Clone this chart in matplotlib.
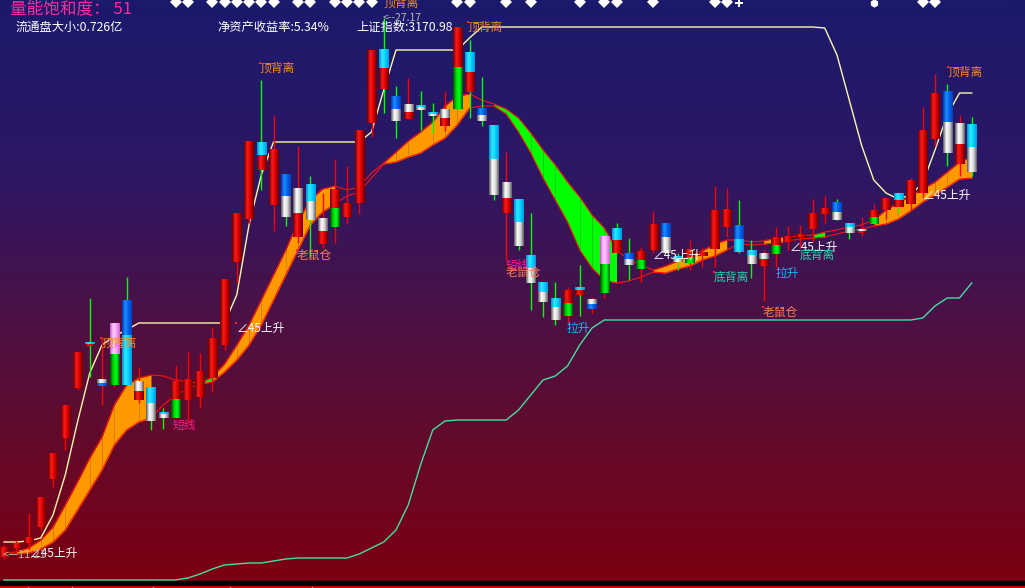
import numpy as np
import matplotlib
matplotlib.use("Agg")
import matplotlib.pyplot as plt
from matplotlib.colors import LinearSegmentedColormap

plt.rcParams['font.family'] = ['Noto Sans CJK SC', 'DejaVu Sans']

# candle data (screen units, smaller = higher price)
highs = [545, 540, 513, 497, 453, 405, 352, 298, 338, 323, 277, 367, 387, 408, 366, 352, 353, 327, 279, 213,
         141, 80, 115, 174, 146, 176, 193, 159, 166, 130, 50, 18, 86, 78, 91, 103, 91, 27, 40, 77,
         125, 152, 199, 213, 282, 282, 287, 265, 297, 236, 223, 238, 247, 211, 223, 253, 240, 247, 186, 188,
         200, 240, 250, 227, 226, 225, 199, 196, 199, 223, 217, 204, 198, 193, 178, 107, 74, 84, 115, 117]
lows = [559, 552, 550, 530, 487, 450, 390, 377, 405, 387, 385, 403, 430, 429, 418, 423, 408, 392, 350, 283,
        223, 190, 231, 226, 243, 257, 248, 243, 224, 214, 137, 113, 138, 119, 130, 133, 131, 109, 118, 126,
        200, 260, 250, 310, 317, 325, 325, 316, 313, 298, 253, 280, 282, 253, 253, 270, 270, 267, 267, 237,
        253, 278, 301, 267, 250, 248, 242, 223, 220, 239, 236, 227, 219, 213, 210, 197, 146, 166, 176, 176]
tops = [547, 543, 537, 497, 453, 405, 352, 342, 379, 323, 300, 381, 387, 412, 381, 379, 371, 338, 279, 213,
        141, 142, 149, 174, 188, 184, 218, 189, 203, 130, 50, 49, 96, 104, 105, 112, 109, 27, 52, 108,
        125, 182, 199, 255, 282, 298, 290, 287, 299, 236, 228, 253, 251, 224, 223, 256, 249, 252, 210, 209,
        225, 250, 253, 237, 236, 234, 213, 208, 202, 223, 229, 210, 198, 193, 180, 130, 93, 91, 123, 124]
mids = [557, 548, 543, 527, 479, 438, 388, 344, 383, 354, 335, 391, 403, 414, 399, 400, 397, 378, 345, 262,
        219, 155, 205, 196, 213, 201, 231, 208, 217, 203, 123, 68, 109, 112, 107, 114, 118, 67, 72, 115,
        159, 198, 222, 268, 292, 307, 303, 290, 304, 264, 240, 259, 260, 250, 237, 259, 257, 256, 249, 227,
        239, 255, 259, 245, 242, 237, 229, 214, 212, 227, 231, 217, 210, 200, 204, 193, 139, 122, 144, 147]
bots = [557, 548, 543, 527, 479, 438, 388, 346, 386, 385, 385, 400, 421, 418, 418, 400, 397, 378, 345, 262,
        219, 170, 205, 217, 237, 220, 244, 227, 217, 203, 123, 89, 121, 119, 110, 116, 126, 109, 92, 121,
        195, 213, 246, 283, 302, 320, 316, 295, 309, 293, 253, 265, 269, 250, 253, 262, 263, 256, 249, 227,
        252, 264, 266, 254, 242, 237, 229, 214, 220, 233, 233, 224, 210, 207, 204, 193, 139, 153, 164, 172]
# body colours: r red, c cyan, b blue, w silver, g green, p pink
top_col = ("rrrrrrrcwp" "bwccrrrrrr" "rcrbwcwrrr" "rcbwccwrcb"
           "cwccccrcwp" "cbrrbcrrrr" "bcwrrrrrbc" "wrrcrrrbwc")
bot_col = ("rrrrrrrrbg" "crwwgrrrrr" "rrrwrwrgrr" "rrwrwwrgrw"
           "wrwwwwgrbg" "rwgrwwgrrr" "cwrgrrrrww" "rgrrrrrwrw")
wick_col = ("rrrrrrrgrr" "grggrrrrrr" "rgrgrgrrrr" "rggrggrrgg"
            "grggggrgrr" "ggrrggrrrr" "ggrrrrrrgg" "rrrgrrrgrg")

# moving-average ribbon (two edges) and fill colour per segment
band_a = [553, 552, 548, 540, 527, 505, 482, 458, 437, 405, 385, 378, 375, 376, 380, 382, 383, 377, 364, 345,
          325, 300, 275, 250, 222, 200, 189, 186, 190, 187, 173, 163, 152, 141, 132, 122, 106, 96, 94, 100,
          104, 109, 118, 133, 150, 165, 182, 197, 215, 228, 250, 260, 265, 270, 266, 261, 256, 251, 244, 240,
          240, 242, 241, 238, 237, 236, 235, 232, 230, 227, 225, 220, 210, 203, 196, 189, 182, 172, 162, 157]
band_b = [554, 554, 553, 549, 542, 530, 510, 490, 470, 445, 430, 422, 418, 405, 395, 389, 384, 382, 372, 360,
          345, 325, 300, 275, 250, 225, 212, 204, 196, 192, 178, 164, 162, 157, 153, 145, 138, 125, 108, 106,
          106, 114, 132, 153, 178, 200, 222, 250, 268, 280, 283, 281, 277, 272, 273, 269, 266, 260, 256, 250,
          244, 245, 244, 243, 241, 239, 238, 237, 234, 231, 229, 226, 224, 219, 211, 202, 195, 187, 179, 178]
band_fill = ("n" + "o" * 11 + "n" * 4 + "g" + "o" * 10 + "n" * 4 + "o" * 7 + "n" * 2 + "g" * 10 +
             "n" * 3 + "o" * 6 + "n" * 3 + "o" * 2 + "n" * 2 + "g" + "n" * 4 + "o" * 8)

# upper trailing line (light yellow) and lower line (aquamarine)
line_hi = [542, 542, 541, 538, 515, 475, 422, 373, 345, 336, 330, 323, 323, 323, 323, 323, 323, 323, 323, 295,
           225, 175, 142, 142, 142, 142, 142, 142, 142, 142, 132, 90, 50, 50, 50, 50, 50, 50, 38, 27,
           27, 27, 27, 27, 27, 27, 27, 27, 27, 27, 27, 27, 27, 27, 27, 27, 27, 27, 27, 27,
           27, 27, 27, 27, 27, 27, 27, 28, 55, 100, 145, 180, 193, 199, 195, 183, 150, 115, 93, 93]
line_lo = [580, 580, 580, 580, 580, 580, 580, 580, 580, 580, 580, 580, 580, 580, 580, 578, 574, 569, 565, 564,
           563, 563, 561, 559, 558, 558, 558, 558, 558, 554, 548, 542, 530, 505, 465, 430, 421, 420, 420, 420,
           420, 420, 410, 395, 380, 376, 366, 345, 328, 320, 320, 320, 320, 320, 320, 320, 320, 320, 320, 320,
           320, 320, 320, 320, 320, 320, 320, 320, 320, 320, 320, 320, 320, 320, 320, 318, 306, 298, 298, 283]

# signal markers along the top edge
mark_idx = [14, 15, 17, 18, 19, 20, 21, 22, 24, 25, 27, 28, 29, 30, 37, 38, 41, 43, 47, 49, 50, 53, 58, 59, 75, 76]
cross_idx = [60]
bug_idx = [71]

# text labels: (screen x, screen y, text, colour)
labels = [
    (383, -3, "顶背离", "#ff8a1a"), (468, 21, "顶背离", "#ff8a1a"), (260, 62, "顶背离", "#ff8a1a"),
    (101, 337, "顶背离", "#ff8a1a"), (948, 66, "顶背离", "#ff8a1a"),
    (30, 547, "∠45上升", "white"), (237, 322, "∠45上升", "white"), (653, 249, "∠45上升", "white"),
    (790, 241, "∠45上升", "white"), (923, 189, "∠45上升", "white"),
    (297, 249, "老鼠仓", "#ff7f50"), (506, 266, "老鼠仓", "#ff7f50"), (763, 306, "老鼠仓", "#ff7f50"),
    (173, 419, "短线", "#ff1a8c"), (506, 259, "短线", "#ff1a8c"),
    (567, 322, "拉升", "#10b8ff"), (776, 267, "拉升", "#10b8ff"),
    (714, 271, "底背离", "#20d8a8"), (800, 249, "底背离", "#20d8a8"),
]
dot_labels = [(468, 22), (260, 63), (101, 338), (948, 67), (297, 250), (714, 272), (763, 307), (236, 323)]

n = len(highs)
x = np.arange(n)
step = 12.25
x0 = 4

def ix(px):
    return (px - x0) / step

fig = plt.figure(figsize=(10.25, 5.88), dpi=100)
ax = fig.add_axes([0, 0, 1, 1])
ax.set_xlim(ix(0), ix(1025))
ax.set_ylim(588, 0)
ax.set_autoscale_on(False)
ax.axis('off')

# background gradient
bg = LinearSegmentedColormap.from_list("bg", [(0, "#1b1a6d"), (0.3, "#2e1764"), (0.5, "#47124a"),
                                              (0.72, "#600b2e"), (1, "#7e0010")])
ax.imshow(np.linspace(0, 1, 256).reshape(-1, 1), cmap=bg, extent=(ix(0), ix(1025), 588, 0),
          aspect='auto', zorder=0)

# bottom strip
ax.fill_between([ix(0), ix(1025)], 581, 586, color="black", zorder=1)
ax.plot([ix(0), ix(1025)], [586.5, 586.5], color="#e00000", lw=1.2, zorder=1)
for t in [28, 72, 153, 230, 312]:
    ax.plot([ix(t), ix(t)], [587, 588], color="#909090", lw=1, zorder=1)

# ribbon
fills = {"o": "#ff9900", "g": "#00ff00"}
for i in range(n - 1):
    c = band_fill[i]
    if c in fills:
        ax.fill_between(x[i:i + 2], band_a[i:i + 2], band_b[i:i + 2], color=fills[c], lw=0, zorder=2)
ax.plot(x, band_a, color="#ff1010", lw=0.8, zorder=2)
ax.plot(x, band_b, color="#ff1010", lw=0.8, zorder=2)

ax.plot(x, line_hi, color="#f8f8a8", lw=1.0, zorder=2)
ax.plot(x, line_lo, color="#40e0a0", lw=1.0, zorder=2)

# candles with cylinder shading
shade = {
    "r": ["#6a0000", "#ff1a1a", "#d80000", "#6a0000"],
    "c": ["#0090d8", "#30ecff", "#00d0ff", "#0098e0"],
    "b": ["#0038b8", "#1a90ff", "#0060e8", "#0040c0"],
    "w": ["#5a5a5a", "#ffffff", "#d8d8d8", "#606060"],
    "g": ["#004a00", "#00e000", "#00ff20", "#005800"],
    "p": ["#d050d0", "#ffd0ff", "#f8a0f8", "#d060d0"],
}
cmaps = {k: LinearSegmentedColormap.from_list(k, v) for k, v in shade.items()}
grad = np.linspace(0, 1, 32).reshape(1, -1)
wick_colors = {"r": "#ff0000", "g": "#00ff00"}
half = 0.37

for i in range(n):
    ax.vlines(i, highs[i], lows[i], color=wick_colors[wick_col[i]], lw=1.0, zorder=3)
    segs = [(tops[i], mids[i], top_col[i]), (mids[i], bots[i], bot_col[i])]
    for y0, y1, c in segs:
        if y1 - y0 <= 0:
            continue
        if y1 - y0 < 2:
            y1 = y0 + 2
        ax.imshow(grad, cmap=cmaps[c], extent=(i - half, i + half, y1, y0), aspect='auto',
                  interpolation='bilinear', zorder=4)

# top markers
ax.plot(mark_idx, [1.5] * len(mark_idx), 'D', color="white", ms=6, mew=0, zorder=5, clip_on=True)
ax.plot(cross_idx, [3] * len(cross_idx), 'P', color="white", ms=6, mew=0, zorder=5)
ax.plot(bug_idx, [3] * len(bug_idx), 'h', color="white", ms=6, mew=0, zorder=5)

# labels
for px, py, s, c in labels:
    ax.text(ix(px), py, s, color=c, fontsize=8.5, ha='left', va='top', zorder=6)
for px, py in dot_labels:
    ax.plot(ix(px), py, 's', color="#ff2020", ms=2, mew=0, zorder=6)

ax.text(ix(383), 13, "<--27.17", color="#b8b8b8", fontsize=7.5, ha='left', va='top', zorder=6)
ax.text(ix(3), 550, "<—11.21", color="#b8b8b8", fontsize=8, ha='left', va='top', zorder=6)

# header
ax.text(ix(10), 0, "量能饱和度： 51", color="#ff2a9a", fontsize=12, ha='left', va='top', zorder=6)
ax.text(ix(16), 21, "流通盘大小:0.726亿", color="white", fontsize=8.8, ha='left', va='top', zorder=6)
ax.text(ix(217), 21, "净资产收益率:5.34%", color="white", fontsize=8.8, ha='left', va='top', zorder=6)
ax.text(ix(356), 21, "上证指数:3170.98", color="white", fontsize=8.8, ha='left', va='top', zorder=6)

fig.savefig("out.png", dpi=100)
